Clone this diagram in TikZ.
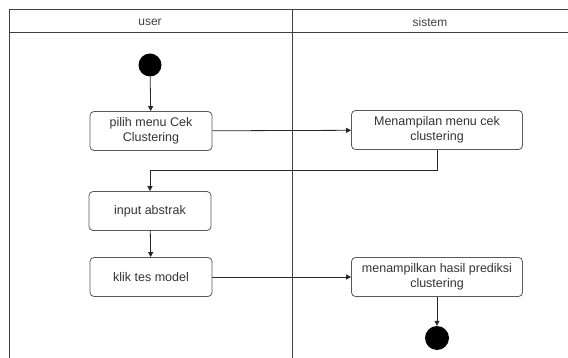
\documentclass[tikz,border=0pt]{standalone}
\usepackage{fontspec}
\setmainfont{Liberation Sans}
\usetikzlibrary{arrows.meta}
\tikzset{
  lane/.style={draw=black!75, line width=1pt},
  actbox/.style={draw=black!65, line width=0.8pt, rounded corners=4pt, minimum width=122pt, minimum height=39pt, align=center, font=\fontsize{12.5}{15}\selectfont, text=black!80, inner sep=2pt},
  dot/.style={circle, fill=black, inner sep=0pt, minimum size=23pt},
  arr/.style={draw=black!85, line width=0.8pt, -{Triangle[width=5pt,length=5pt]}},
  hdr/.style={font=\fontsize{12}{14}\selectfont, text=black!75}
}
\begin{document}
\begin{tikzpicture}[x=1pt,y=-1pt]
\useasboundingbox (0,0) rectangle (568,358);
% swimlane frame
\coordinate (tl) at (9,10);
\coordinate (tr) at (568,10);
\coordinate (hl) at (9,33);
\coordinate (hr) at (568,33);
\coordinate (bl) at (9,358);
\coordinate (dt) at (292,10);
\coordinate (db) at (292,358);
\draw[lane] (bl) -- (tl) -- (tr);
\draw[lane] (hl) -- (hr);
\draw[lane] (dt) -- (db);
\node[hdr] (huser) at (150,22) {user};
\node[hdr] (hsis) at (430,22) {sistem};
% nodes
\node[dot] (start) at (150,65) {};
\node[actbox] (b1) at (151,131) {pilih menu Cek\\Clustering};
\node[actbox, minimum width=171pt] (b2) at (437,130) {Menampilan menu cek\\clustering};
\node[actbox] (b3) at (150,211) {input abstrak};
\node[actbox] (b4) at (151,277) {klik tes model};
\node[actbox, minimum width=171pt] (b5) at (437,277) {menampilkan hasil prediksi\\clustering};
\node[dot, minimum size=24pt] (end) at (437,338) {};
% connectors
\draw[arr] (start) -- (b1);
\draw[arr] (b1) -- (b2);
\draw[arr] (b2.south) -- ++(0,21) -| (b3.north);
\draw[arr] (b3) -- (b4);
\draw[arr] (b4) -- (b5);
\draw[arr] (b5) -- (end);
\end{tikzpicture}
\end{document}
